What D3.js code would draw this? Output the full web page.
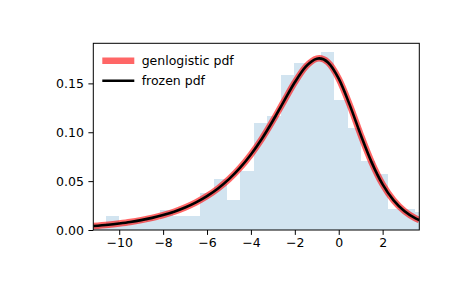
<!DOCTYPE html>
<html>
<head>
<meta charset="utf-8">
<script src="https://cdn.jsdelivr.net/npm/d3@7"></script>
<style>
  body { margin: 0; background: #fff; }
  text { font-family: "DejaVu Sans", sans-serif; }
</style>
</head>
<body>
<div id="chart"></div>
<script>
// Histogram bins (density)
var binEdges = [-11.21, -10.60, -9.99, -9.37, -8.76, -8.15, -7.54, -6.93, -6.32, -5.70,
                -5.09, -4.48, -3.87, -3.26, -2.65, -2.04, -1.42, -0.81, -0.20, 0.41,
                1.02, 1.63, 2.24, 2.86, 3.47, 4.08];
var binHeights = [0.004, 0.0143, 0.007, 0.008, 0.010, 0.0205, 0.0143, 0.0143, 0.0375, 0.0521,
                  0.0307, 0.0603, 0.1094, 0.1166, 0.1585, 0.1708, 0.174, 0.182, 0.133, 0.1046,
                  0.0706, 0.0573, 0.021, 0.021, 0.0187];

// pdf curve points
var pdfX = [-11.18, -10.5, -10, -9.5, -9, -8.5, -8, -7.5, -7, -6.5, -6, -5.5, -5, -4.5, -4,
            -3.5, -3, -2.5, -2, -1.5, -1, -0.89, -0.5, 0, 0.5, 1, 1.5, 2, 2.5, 3, 3.5, 3.67];
var pdfY = [0.0041, 0.0054, 0.0067, 0.0082, 0.0101, 0.0124, 0.0153, 0.0187, 0.0230, 0.0283,
            0.0347, 0.0425, 0.0520, 0.0635, 0.0773, 0.0934, 0.1118, 0.1316, 0.1511, 0.1671,
            0.1753, 0.1756, 0.1717, 0.1548, 0.1280, 0.0974, 0.0692, 0.0466, 0.0303, 0.0192,
            0.0119, 0.0101];

var xTicks = [-10, -8, -6, -4, -2, 0, 2];
var yTicks = [0.00, 0.05, 0.10, 0.15];
var legendLabels = ["genlogistic pdf", "frozen pdf"];

var w = 465, h = 288;
var plotLeft = 93.3, plotRight = 419.3, plotTop = 43.3, plotBottom = 230;

var svg = d3.select("#chart").append("svg")
            .attr("width", w).attr("height", h);

var x = d3.scaleLinear().domain([-11.18, 3.67]).range([plotLeft, plotRight]);
var y = d3.scaleLinear().domain([0, 0.191]).range([plotBottom, plotTop]);

svg.append("clipPath").attr("id", "clip")
   .append("rect")
   .attr("x", plotLeft).attr("y", plotTop)
   .attr("width", plotRight - plotLeft).attr("height", plotBottom - plotTop);

var plot = svg.append("g").attr("clip-path", "url(#clip)");

// histogram bars
var bins = binHeights.map(function(v, i) {
  return {x0: binEdges[i], x1: binEdges[i + 1], v: v};
});
plot.selectAll("rect.bar")
    .data(bins)
    .enter().append("rect")
    .attr("class", "bar")
    .attr("x", function(d) { return x(d.x0); })
    .attr("width", function(d) { return x(d.x1) - x(d.x0); })
    .attr("y", function(d) { return y(d.v); })
    .attr("height", function(d) { return y(0) - y(d.v); })
    .attr("fill", "#1f77b4")
    .attr("fill-opacity", 0.2)
    .attr("shape-rendering", "crispEdges");

var pts = pdfX.map(function(v, i) { return [v, pdfY[i]]; });
var line = d3.line()
             .x(function(d) { return x(d[0]); })
             .y(function(d) { return y(d[1]); })
             .curve(d3.curveMonotoneX);

plot.append("path").datum(pts)
    .attr("d", line).attr("fill", "none")
    .attr("stroke", "#ff0000").attr("stroke-opacity", 0.6)
    .attr("stroke-width", 6.5);
plot.append("path").datum(pts)
    .attr("d", line).attr("fill", "none")
    .attr("stroke", "#000").attr("stroke-width", 2.6);

// axes
var minus = function(v) { return (v < 0 ? "\u2212" : "") + Math.abs(v); };
var xAxis = svg.append("g")
   .attr("transform", "translate(0," + plotBottom + ")")
   .call(d3.axisBottom(x).tickValues(xTicks).tickFormat(minus)
         .tickSize(4.9).tickSizeOuter(0).tickPadding(3.5));
var yAxis = svg.append("g")
   .attr("transform", "translate(" + plotLeft + ",0)")
   .call(d3.axisLeft(y).tickValues(yTicks).tickFormat(d3.format(".2f"))
         .tickSize(4.9).tickSizeOuter(0).tickPadding(4.5));

[xAxis, yAxis].forEach(function(a) {
  a.select(".domain").remove();
  a.selectAll("line").attr("stroke", "#000").attr("stroke-width", 1);
  a.selectAll("text").attr("fill", "#000")
   .style("font-family", "'DejaVu Sans', sans-serif").style("font-size", "12.5px");
});

// frame
svg.append("rect")
   .attr("x", plotLeft).attr("y", plotTop)
   .attr("width", plotRight - plotLeft).attr("height", plotBottom - plotTop)
   .attr("fill", "none").attr("stroke", "#000").attr("stroke-width", 1);

// legend
var legend = svg.append("g");
legend.append("line")
      .attr("x1", 102.3).attr("x2", 134.3).attr("y1", 60.7).attr("y2", 60.7)
      .attr("stroke", "#ff0000").attr("stroke-opacity", 0.6).attr("stroke-width", 6.5);
legend.append("line")
      .attr("x1", 102.3).attr("x2", 134.3).attr("y1", 80.7).attr("y2", 80.7)
      .attr("stroke", "#000").attr("stroke-width", 2.6);
legend.selectAll("text.lab")
      .data(legendLabels)
      .enter().append("text")
      .attr("class", "lab")
      .attr("x", 141.7)
      .attr("y", function(d, i) { return 60.7 + i * 20 + 4.5; })
      .style("font-size", "12.5px")
      .text(function(d) { return d; });
</script>
</body>
</html>
